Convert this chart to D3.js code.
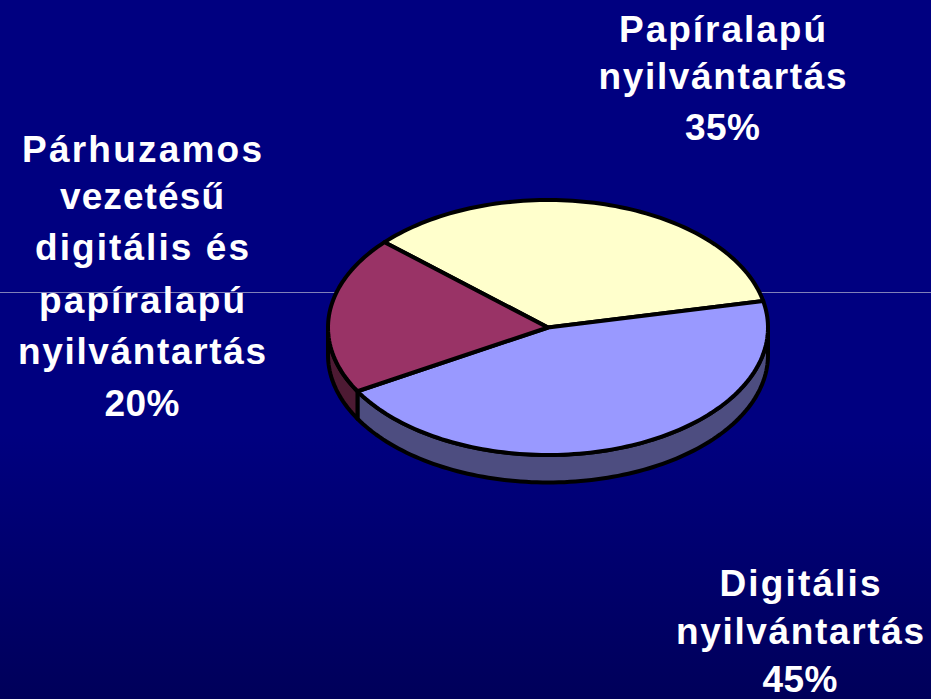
<!DOCTYPE html>
<html><head><meta charset="utf-8">
<script src="https://cdn.jsdelivr.net/npm/d3@7/dist/d3.min.js"></script>
<style>html,body{margin:0;padding:0;background:#000080;overflow:hidden}svg{display:block}
text{font-family:"Liberation Sans",Arial,sans-serif;font-weight:700;fill:#fff;font-size:37px;text-anchor:middle}</style>
</head><body>
<script>
const categories = ["Papíralapú nyilvántartás", "Digitális nyilvántartás", "Párhuzamos vezetésű digitális és papíralapú nyilvántartás"];
const values = [35, 45, 20];
const topColors = ["#FFFFCC", "#9999FF", "#993366"];
const sideColors = ["#80805f", "#4D4D80", "#4D1A33"];
const labelLines = [
  ["Papíralapú", "nyilvántartás", "35%"],
  ["Digitális", "nyilvántartás", "45%"],
  ["Párhuzamos", "vezetésű", "digitális és", "papíralapú", "nyilvántartás", "20%"]
];
const labelX = [722.5, 800, 142];
const labelBaselines = [[42, 89, 140], [596, 644, 692], [162, 209, 260, 313, 364, 416]];
const labelWidths = [[207, 248, 75], [161, 248, 75], [240, 164, 214, 206, 248, 75]];

const W = 931, H = 699;
const svg = d3.select("body").append("svg").attr("width", W).attr("height", H);
const defs = svg.append("defs");
const grad = defs.append("linearGradient").attr("id", "bg").attr("x1", 0).attr("y1", 0).attr("x2", 0).attr("y2", 1);
[[0, "#000080"], [0.62, "#000080"], [1, "#00005a"]].forEach(s => grad.append("stop").attr("offset", s[0]).attr("stop-color", s[1]));
svg.append("rect").attr("width", W).attr("height", H).attr("fill", "url(#bg)");
svg.append("line").attr("x1", 0).attr("x2", W).attr("y1", 292.5).attr("y2", 292.5).attr("stroke", "#8080b8").attr("stroke-width", 1);

const cx = 548, cy = 327.5, rx = 220, ry = 127.5, depth = 27.5;
const startDeg = -48;
const arcs = d3.pie().sort(null).startAngle(startDeg * Math.PI / 180).endAngle((startDeg + 360) * Math.PI / 180)(values);
const xS = d3.scaleLinear().domain([-1, 1]).range([cx - rx, cx + rx]);
const yS = d3.scaleLinear().domain([-1, 1]).range([cy - ry, cy + ry]);
const line = d3.line().x(d => d[0]).y(d => d[1]);
const pt = (a, dz = 0) => [xS(Math.sin(a)), yS(-Math.cos(a)) + dz];
const sample = (a0, a1) => { const n = Math.max(2, Math.ceil(Math.abs(a1 - a0) * 40)); return d3.range(n + 1).map(i => a0 + (a1 - a0) * i / n); };
const g = svg.append("g").attr("stroke", "#000").attr("stroke-width", 4).attr("stroke-linejoin", "round");

// sides: only the front half of the rim is visible
arcs.forEach((d, i) => {
  const a0 = Math.max(d.startAngle, Math.PI / 2), a1 = Math.min(d.endAngle, 3 * Math.PI / 2);
  if (a1 <= a0) return;
  const s = sample(a0, a1);
  const poly = s.map(a => pt(a)).concat(s.slice().reverse().map(a => pt(a, depth)));
  g.append("path").attr("d", line(poly) + "Z").attr("fill", sideColors[i]);
});
// top slices
arcs.forEach((d, i) => {
  const poly = [[xS(0), yS(0)]].concat(sample(d.startAngle, d.endAngle).map(a => pt(a)));
  g.append("path").attr("d", line(poly) + "Z").attr("fill", topColors[i]);
});

labelLines.forEach((lines, i) => {
  const t = svg.append("text");
  lines.forEach((l, j) => t.append("tspan")
    .attr("x", labelX[i]).attr("y", labelBaselines[i][j])
    .attr("textLength", labelWidths[i][j]).attr("lengthAdjust", "spacing").text(l));
});
</script>
</body></html>
